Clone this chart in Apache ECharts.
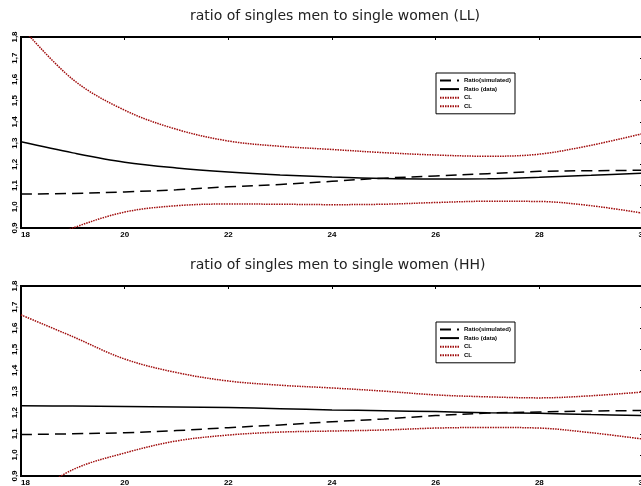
<!DOCTYPE html>
<html>
<head>
<meta charset="utf-8">
<script src="https://cdn.jsdelivr.net/npm/echarts@6/dist/echarts.min.js"></script>
<style>
  html, body { margin: 0; padding: 0; background: #fff; }
  #main { width: 641px; height: 486px; }
</style>
</head>
<body>
<div id="main"></div>
<script>
// ages on the x axis
const years = [18, 19, 20, 21, 22, 23, 24, 25, 26, 27, 28, 29, 30];
const yTicks = [0.9, 1.0, 1.1, 1.2, 1.3, 1.4, 1.5, 1.6, 1.7, 1.8];

// LL panel
const llSim   = [1.060, 1.063, 1.070, 1.080, 1.094, 1.105, 1.120, 1.135, 1.145, 1.156, 1.167, 1.170, 1.172];
const llData  = [1.306, 1.254, 1.210, 1.183, 1.164, 1.150, 1.140, 1.133, 1.131, 1.132, 1.139, 1.148, 1.158];
const llUpper = [1.850, 1.600, 1.455, 1.365, 1.310, 1.285, 1.270, 1.255, 1.244, 1.238, 1.248, 1.290, 1.345];
const llLower = [0.800, 0.900, 0.975, 1.005, 1.013, 1.012, 1.010, 1.012, 1.020, 1.026, 1.025, 1.005, 0.970];

// HH panel
const hhSim   = [1.096, 1.100, 1.105, 1.115, 1.129, 1.142, 1.157, 1.170, 1.186, 1.198, 1.203, 1.208, 1.210];
const hhData  = [1.233, 1.231, 1.229, 1.227, 1.224, 1.219, 1.213, 1.209, 1.205, 1.200, 1.197, 1.191, 1.186];
const hhUpper = [1.663, 1.560, 1.454, 1.390, 1.350, 1.330, 1.317, 1.302, 1.284, 1.275, 1.270, 1.280, 1.298];
const hhLower = [0.780, 0.930, 1.009, 1.066, 1.094, 1.108, 1.113, 1.118, 1.127, 1.130, 1.127, 1.105, 1.075];

const seriesNames = ['Ratio(simulated)', 'Ratio (data)', 'CL', 'CL '];
const red = '#a00c0c';

function pairs(vals) {
  return years.map((y, i) => [y, vals[i]]);
}

const chart = echarts.init(document.getElementById('main'));

const panels = [
  { title: 'ratio of singles men to single women (LL)', top: 37, bottom: 258, titleTop: 4, legendTop: 73,
    sim: llSim, data: llData, up: llUpper, lo: llLower },
  { title: 'ratio of singles men to single women (HH)', top: 286, bottom: 10, titleTop: 253, legendTop: 322,
    sim: hhSim, data: hhData, up: hhUpper, lo: hhLower }
];

const option = {
  animation: false,
  backgroundColor: '#fff',
  title: [], grid: [], xAxis: [], yAxis: [], legend: [], series: []
};

panels.forEach((p, k) => {
  option.title.push({
    text: p.title, left: 185, top: p.titleTop,
    textStyle: { fontFamily: 'DejaVu Sans', fontSize: 14, fontWeight: 'normal', color: '#222' }
  });
  option.grid.push({
    left: 21, right: -2, top: p.top, bottom: p.bottom, outerBoundsMode: 'none',
    show: true, borderColor: '#000', borderWidth: 2, backgroundColor: 'transparent'
  });
  // bottom / left axes with labels
  option.xAxis.push({
    type: 'value', gridIndex: k, min: 18, max: 30, interval: 2,
    axisLine: { show: false }, splitLine: { show: false },
    axisTick: { show: false },
    axisLabel: { fontFamily: 'Liberation Sans', fontSize: 8, fontWeight: 'bold', color: '#000',
      margin: 3, alignMinLabel: 'left' }
  });
  option.yAxis.push({
    type: 'value', gridIndex: k, min: 0.9, max: 1.8, interval: 0.1,
    axisLine: { show: false }, splitLine: { show: false },
    axisTick: { show: false },
    axisLabel: { fontFamily: 'Liberation Sans', fontSize: 8, fontWeight: 'bold', color: '#000',
      rotate: 90, margin: 2,
      formatter: v => v.toFixed(1).replace('.', ',') }
  });
  // top / right axes: inward ticks only
  option.xAxis.push({
    type: 'value', gridIndex: k, position: 'top', min: 18, max: 30, interval: 2,
    axisLine: { show: false }, splitLine: { show: false }, axisLabel: { show: false },
    axisTick: { show: true, inside: true, length: 3, lineStyle: { color: '#000', width: 1 } }
  });
  option.yAxis.push({
    type: 'value', gridIndex: k, position: 'right', min: 0.9, max: 1.8, interval: 0.1,
    axisLine: { show: false }, splitLine: { show: false }, axisLabel: { show: false },
    axisTick: { show: true, inside: true, length: 3, lineStyle: { color: '#000', width: 1 } }
  });

  const xi = k * 2, yi = k * 2;
  const lines = [
    { vals: p.sim, color: '#000', type: [11, 6], width: 1.5 },
    { vals: p.data, color: '#000', type: 'solid', width: 1.5 },
    { vals: p.up, color: red, type: [1.5, 1], width: 1.5 },
    { vals: p.lo, color: red, type: [1.5, 1], width: 1.5 }
  ];
  lines.forEach((l, j) => {
    option.series.push({
      name: seriesNames[j], type: 'line', xAxisIndex: xi, yAxisIndex: yi,
      data: pairs(l.vals), showSymbol: false, symbol: 'none', smooth: 0.35, clip: true,
      lineStyle: { color: l.color, width: l.width, type: l.type },
      itemStyle: { color: l.color }
    });
  });

  option.legend.push({
    data: seriesNames, orient: 'vertical', left: 436, top: p.legendTop,
    itemWidth: 19, itemHeight: 7, itemGap: 1.6,
    padding: [4, 4, 4, 3],
    borderColor: '#000', borderWidth: 1, backgroundColor: '#fff',
    selectedMode: false,
    itemStyle: { opacity: 0 },
    textStyle: { fontFamily: 'Liberation Sans', fontSize: 6, fontWeight: 'bold', color: '#000', lineHeight: 7 }
  });
});

chart.setOption(option);
</script>
</body>
</html>
